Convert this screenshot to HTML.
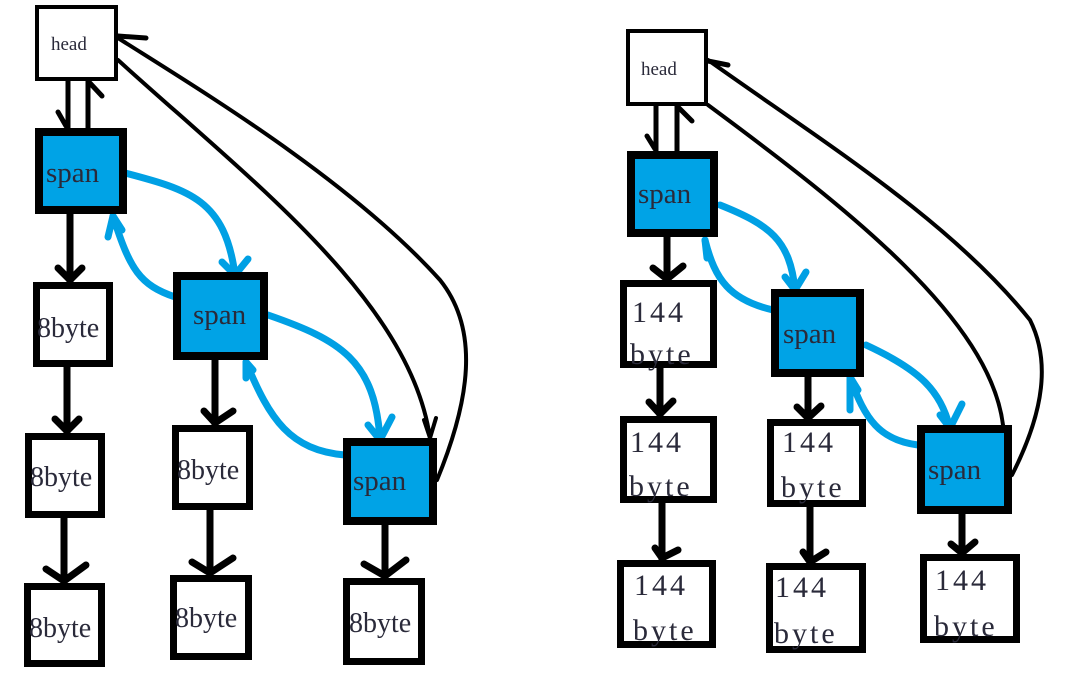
<!DOCTYPE html>
<html><head><meta charset="utf-8"><style>
html,body{margin:0;padding:0;background:#fff;width:1083px;height:681px;overflow:hidden}
svg{display:block}
text{font-family:"Liberation Serif","Noto Serif CJK SC",serif;fill:#2a2a3a}
</style></head><body>
<svg width="1083" height="681" viewBox="0 0 1083 681" xmlns="http://www.w3.org/2000/svg">
<g fill="none" stroke="#000" stroke-linecap="round" stroke-linejoin="round">
<!-- LEFT thin curves -->
<path d="M118,60 C250,180 410,300 430,438" stroke-width="4"/>
<path d="M424,420 L430,438 L436,418" stroke-width="4"/>
<path d="M437,480 C470,400 480,330 440,280 C350,180 200,90 118,38" stroke-width="4"/>
<path d="M146,38 L118,36" stroke-width="5"/>
<!-- head-span links left -->
<path d="M68,81 V128 M58,112 L66,126" stroke-width="5"/>
<path d="M88,128 V81 M88,81 L102,96" stroke-width="5"/>
<!-- down arrows left -->
<path d="M70,214 V282 M58,268 L70,280 L82,268" stroke-width="7"/>
<path d="M67,367 V433 M55,419 L67,431 L79,419" stroke-width="7"/>
<path d="M64,518 V583 M46,569 L64,581 L86,565" stroke-width="7"/>
<path d="M215,360 V425 M204,411 L215,423 L233,411" stroke-width="7"/>
<path d="M210,510 V575 M192,562 L210,573 L233,558" stroke-width="7"/>
<path d="M385,525 V578 M364,564 L385,576 L406,560" stroke-width="7"/>
<!-- RIGHT thin curves -->
<path d="M708,105 C850,210 990,320 1003,425" stroke-width="4"/>
<path d="M1012,475 C1045,410 1050,360 1030,320 C950,220 820,140 708,60" stroke-width="4"/>
<path d="M728,65 L708,61" stroke-width="5"/>
<path d="M656,106 V151 M647,136 L655,149" stroke-width="5"/>
<path d="M677,151 V106 M677,106 L692,121" stroke-width="5"/>
<path d="M667,237 V280 M653,268 L667,279 L683,266" stroke-width="7"/>
<path d="M660,368 V416 M649,402 L660,414 L673,401" stroke-width="7"/>
<path d="M662,503 V560 M655,548 L662,558 L678,550" stroke-width="7"/>
<path d="M808,377 V419 M797,407 L808,418 L821,406" stroke-width="7"/>
<path d="M810,507 V563 M803,552 L810,562 L826,552" stroke-width="7"/>
<path d="M962,514 V554 M951,544 L962,553 L975,542" stroke-width="7"/>
</g>
<!-- blue curves -->
<g fill="none" stroke="#00a0e4" stroke-width="7" stroke-linecap="round" stroke-linejoin="round">
<path d="M125,173 C190,190 225,200 235,275"/>
<path d="M222,262 L235,275 L248,259"/>
<path d="M175,297 C140,285 130,270 113,216"/>
<path d="M108,237 L113,216 L122,230"/>
<path d="M268,315 C340,340 375,360 380,440"/>
<path d="M368,425 L380,440 L392,417"/>
<path d="M345,455 C290,450 270,420 246,362"/>
<path d="M246,378 L246,362 L253,370"/>
<path d="M720,205 C770,225 790,240 795,290"/>
<path d="M785,277 L795,290 L806,272"/>
<path d="M773,310 C730,300 715,280 705,240"/>
<path d="M707,258 L705,240"/>
<path d="M866,345 C920,370 940,390 950,428"/>
<path d="M940,415 L950,428 L962,404"/>
<path d="M918,445 C880,440 865,420 850,377"/>
<path d="M850,410 L850,377 L858,390"/>
</g>
<!-- boxes -->
<g stroke="#000">
<rect x="37" y="7" width="79" height="72" fill="#fff" stroke-width="4"/>
<rect x="39" y="132" width="84" height="78" fill="#00a3e6" stroke-width="8"/>
<rect x="36.5" y="285.5" width="73" height="78" fill="#fff" stroke-width="7"/>
<rect x="28.5" y="436.5" width="73" height="78" fill="#fff" stroke-width="7"/>
<rect x="27.5" y="586.5" width="74" height="77" fill="#fff" stroke-width="7"/>
<rect x="177" y="276" width="87" height="80" fill="#00a3e6" stroke-width="8"/>
<rect x="175.5" y="428.5" width="74" height="78" fill="#fff" stroke-width="7"/>
<rect x="173.5" y="578.5" width="75" height="78" fill="#fff" stroke-width="7"/>
<rect x="347" y="442" width="86" height="79" fill="#00a3e6" stroke-width="8"/>
<rect x="346.5" y="581.5" width="75" height="80" fill="#fff" stroke-width="7"/>

<rect x="628" y="31" width="78" height="73" fill="#fff" stroke-width="4"/>
<rect x="631" y="155" width="83" height="78" fill="#00a3e6" stroke-width="8"/>
<rect x="623.5" y="283.5" width="90" height="81" fill="#fff" stroke-width="7"/>
<rect x="623.5" y="419.5" width="90" height="80" fill="#fff" stroke-width="7"/>
<rect x="620.5" y="563.5" width="92" height="81" fill="#fff" stroke-width="7"/>
<rect x="775" y="293" width="85" height="80" fill="#00a3e6" stroke-width="8"/>
<rect x="770.5" y="422.5" width="92" height="81" fill="#fff" stroke-width="7"/>
<rect x="769.5" y="566.5" width="93" height="83" fill="#fff" stroke-width="7"/>
<rect x="921" y="429" width="87" height="81" fill="#00a3e6" stroke-width="8"/>
<rect x="923.5" y="557.5" width="93" height="82" fill="#fff" stroke-width="7"/>
</g>
<!-- labels -->
<g font-size="19">
<text x="51" y="50">head</text>
<text x="641" y="75">head</text>
</g>
<g font-size="29">
<text x="46" y="182">span</text>
<text x="193" y="324">span</text>
<text x="353" y="490">span</text>
<text x="638" y="203">span</text>
<text x="783" y="343">span</text>
<text x="928" y="479">span</text>
</g>
<g font-size="28">
<text x="37" y="337">8byte</text>
<text x="30" y="486">8byte</text>
<text x="29" y="637">8byte</text>
<text x="177" y="479">8byte</text>
<text x="175" y="627">8byte</text>
<text x="349" y="632">8byte</text>
</g>
<g font-size="30" letter-spacing="3">
<text x="632" y="322">144</text><text x="630" y="364">byte</text>
<text x="630" y="452">144</text><text x="629" y="496">byte</text>
<text x="634" y="595">144</text><text x="633" y="640">byte</text>
<text x="782" y="452">144</text><text x="781" y="497">byte</text>
<text x="775" y="597">144</text><text x="774" y="643">byte</text>
<text x="935" y="590">144</text><text x="934" y="636">byte</text>
</g>
</svg>
</body></html>
